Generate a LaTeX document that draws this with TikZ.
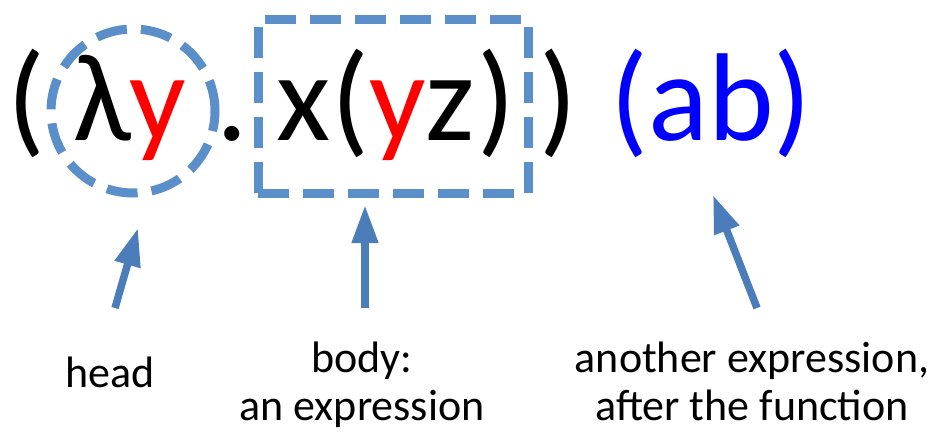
\documentclass[tikz,border=0pt]{standalone}
\usepackage{fontspec}
\setmainfont{Carlito}
\usetikzlibrary{arrows.meta}
\definecolor{dashblue}{HTML}{5B8FC9}
\definecolor{arrblue}{HTML}{4A7DB9}
\definecolor{redy}{HTML}{FF0000}
\definecolor{blueab}{HTML}{0000FF}
\tikzset{
  big/.style={inner sep=0pt, anchor=base, font=\fontsize{125}{150}\selectfont},
  lab/.style={inner sep=0pt, anchor=base, align=center, font=\fontsize{44}{48}\selectfont},
  dashline/.style={draw=dashblue, line width=9pt, dash pattern=on 31pt off 14pt},
  pointer/.style={draw=arrblue, line width=7.5pt, -{Triangle[length=38pt,width=25pt]}}
}
\begin{document}
\begin{tikzpicture}[x=1pt,y=-1pt]
\useasboundingbox (0,0) rectangle (948,436);
% main expression
\node[big] (p1) at (26,140) {(};
\node[big] (lam) at (102,140) {λ};
\node[big, text=redy] (y1) at (158,140) {y};
\node[big] (dot) at (232,140) {.};
\node[big] (x) at (304,140) {x};
\node[big] (p2) at (350,140) {(};
\node[big, text=redy] (y2) at (398,140) {y};
\node[big] (z) at (450,140) {z};
\node[big] (p3) at (496,140) {)};
\node[big] (p4) at (558,140) {)};
\node[big, text=blueab] (ab) at (711,140) {(ab)};
% dashed marks
\node[dashline, circle, minimum size=164pt, inner sep=0pt] (head) at (133,111) {};
\node[dashline, rectangle, minimum width=270pt, minimum height=173pt, inner sep=0pt] (body) at (393,106.5) {};
% labels
\node[lab] (lhead) at (110,387) {head};
\node[lab] (lbody) at (362,420) {body:\\an expression};
\node[lab] (lab2) at (752,420) {another expression,\\after the function};
% arrows
\coordinate (t1) at (115,308);
\coordinate (h1) at (138,228);
\coordinate (t2) at (365,308);
\coordinate (h2) at (365,205);
\coordinate (t3) at (757,308);
\coordinate (h3) at (713,195);
\draw[pointer] (t1) -- (h1);
\draw[pointer] (t2) -- (h2);
\draw[pointer] (t3) -- (h3);
\end{tikzpicture}
\end{document}
